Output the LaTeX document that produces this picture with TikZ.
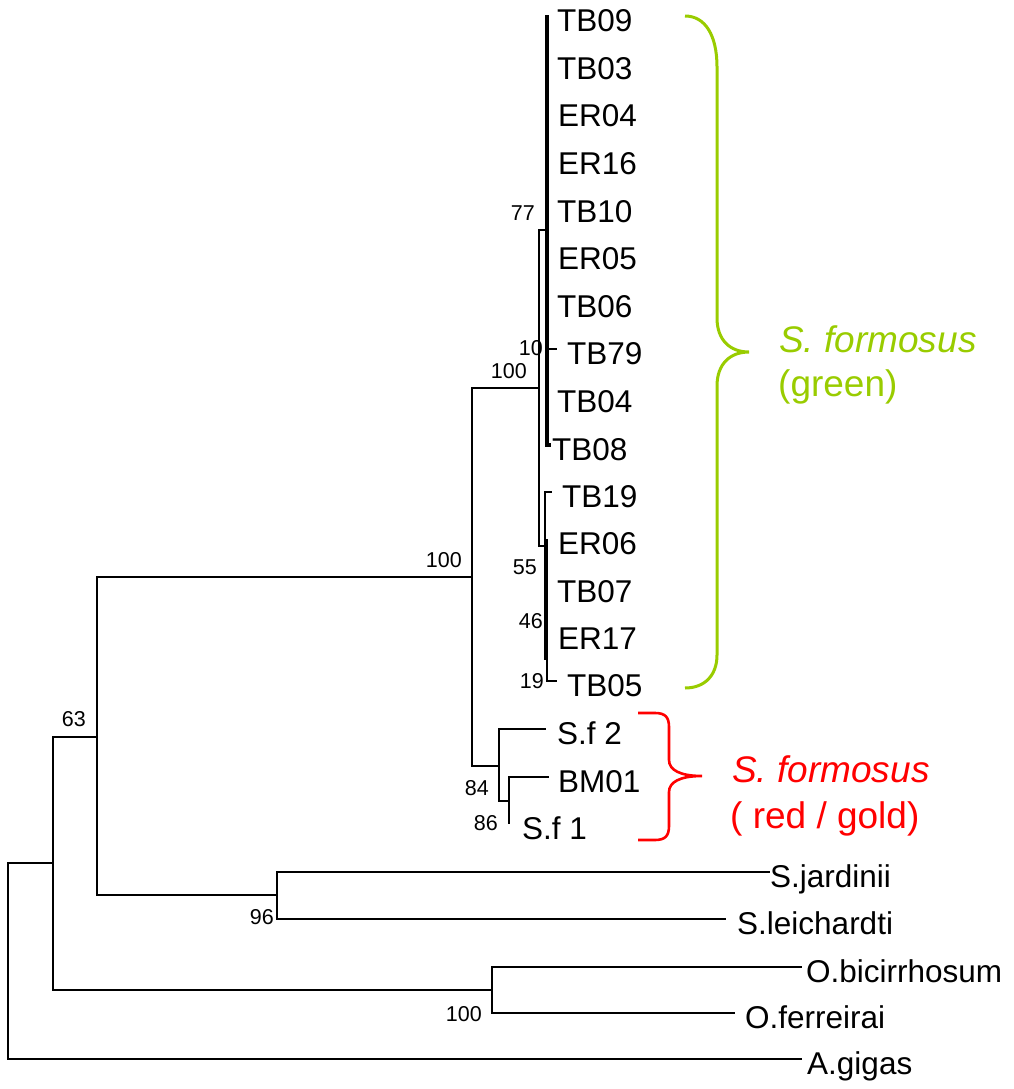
\documentclass[tikz,border=0pt]{standalone}
\usepackage{fontspec}
\setmainfont{Liberation Sans}
\definecolor{limegreen}{HTML}{99CC00}
\definecolor{brred}{HTML}{FF0000}
\begin{document}
\begin{tikzpicture}[x=1pt,y=-1pt,
  branch/.style={line width=2.4pt, line join=miter},
  dense/.style={line width=3.2pt},
  tiplabel/.style={anchor=base west, inner sep=0pt, font=\fontsize{31.5}{36}\selectfont},
  boot/.style={anchor=base east, inner sep=0pt, font=\fontsize{21.5}{24}\selectfont},
  bracegreen/.style={draw=limegreen, line width=3pt},
  bracered/.style={draw=brred, line width=2.6pt},
  cladetext/.style={anchor=base west, inner sep=0pt, font=\fontsize{37}{44}\selectfont}]
\useasboundingbox (0,0) rectangle (1013,1089);

% internal nodes
\coordinate (root) at (8,961);
\coordinate (n63) at (53,863);
\coordinate (nX) at (97,737);
\coordinate (n96) at (277,895);
\coordinate (nO) at (492,990);
\coordinate (nF) at (472,577);
\coordinate (n84) at (499,766);
\coordinate (n86) at (509,801);
\coordinate (nG) at (539,388);
\coordinate (n77) at (547,230);
\coordinate (n55) at (545,546);
\coordinate (n46) at (546,598);
\coordinate (n19) at (547,658);

% branch ends
\coordinate (eTB09) at (547,15);
\coordinate (eTB08) at (551,445);
\coordinate (eTB79) at (557,349);
\coordinate (eTB19) at (552,492);
\coordinate (eER06) at (546,539);
\coordinate (eTB05) at (557,681);
\coordinate (eSf2) at (546,729);
\coordinate (eBM) at (549,777);
\coordinate (eSf1) at (509,824);
\coordinate (ejar) at (770,872);
\coordinate (eleic) at (726,919);
\coordinate (ebic) at (802,967);
\coordinate (efer) at (735,1013);
\coordinate (egig) at (802,1059);

% branches
\draw[branch] (root) |- (n63);
\draw[branch] (root) |- (egig);
\draw[branch] (n63) |- (nX);
\draw[branch] (n63) |- (nO);
\draw[branch] (nO) |- (ebic);
\draw[branch] (nO) |- (efer);
\draw[branch] (nX) |- (nF);
\draw[branch] (nX) |- (n96);
\draw[branch] (n96) |- (ejar);
\draw[branch] (n96) |- (eleic);
\draw[branch] (nF) |- (nG);
\draw[branch] (nF) |- (n84);
\draw[branch] (n84) |- (eSf2);
\draw[branch] (n84) |- (n86);
\draw[branch] (n86) |- (eBM);
\draw[branch] (n86) |- (eSf1);
\draw[branch] (nG) |- (n77);
\draw[branch] (nG) |- (n55);
\draw[branch,dense] (n77) |- (eTB09);
\draw[branch,dense] (n77) |- (eTB08);
\draw[branch] (n77) |- (eTB79);
\draw[branch] (n55) |- (eTB19);
\draw[branch] (n55) |- (n46);
\draw[branch,dense] (n46) |- (eER06);
\draw[branch,dense] (n46) |- (n19);
\draw[branch] (n19) |- (eTB05);

% tip labels
\node[tiplabel] (TB09) at (557,32) {TB09};
\node[tiplabel] (TB03) at (557,79.5) {TB03};
\node[tiplabel] (ER04) at (558,127) {ER04};
\node[tiplabel] (ER16) at (558,174.5) {ER16};
\node[tiplabel] (TB10) at (557,222) {TB10};
\node[tiplabel] (ER05) at (558,269.5) {ER05};
\node[tiplabel] (TB06) at (557,317) {TB06};
\node[tiplabel] (TB79) at (567,364) {TB79};
\node[tiplabel] (TB04) at (557,412) {TB04};
\node[tiplabel] (TB08) at (552,460) {TB08};
\node[tiplabel] (TB19) at (562,507) {TB19};
\node[tiplabel] (ER06) at (558,554.5) {ER06};
\node[tiplabel] (TB07) at (557,602) {TB07};
\node[tiplabel] (ER17) at (558,649.5) {ER17};
\node[tiplabel] (TB05) at (567,696) {TB05};
\node[tiplabel] (Sf2) at (557,744) {S.f 2};
\node[tiplabel] (BM01) at (558,792) {BM01};
\node[tiplabel] (Sf1) at (522,839) {S.f 1};
\node[tiplabel] (Sjar) at (770,887) {S.jardinii};
\node[tiplabel] (Sleic) at (737,934) {S.leichardti};
\node[tiplabel] (Obic) at (806,982) {O.bicirrhosum};
\node[tiplabel] (Ofer) at (745,1028) {O.ferreirai};
\node[tiplabel] (Agig) at (807,1074) {A.gigas};

% bootstrap values
\node[boot] (b77) at (535,220) {77};
\node[boot] (b10) at (543,355) {10};
\node[boot] (b100a) at (527,378) {100};
\node[boot] (b100b) at (462,567) {100};
\node[boot] (b63) at (86,726) {63};
\node[boot] (b96) at (274,924) {96};
\node[boot] (b100c) at (482,1021) {100};
\node[boot] (b84) at (489,795) {84};
\node[boot] (b86) at (498,830) {86};
\node[boot] (b55) at (537,574) {55};
\node[boot] (b46) at (543,628) {46};
\node[boot] (b19) at (544,688) {19};

% braces
\draw[bracegreen] (685,16) .. controls (705,16) and (717,35) .. (717,67)
  -- (717,318) .. controls (717,340) and (730,352) .. (749,352)
  .. controls (730,352) and (717,364) .. (717,386)
  -- (717,655) .. controls (717,675) and (705,688) .. (685,688);
\draw[bracered] (638,713) -- (655,713) .. controls (665,713) and (669,717) .. (669,727)
  -- (669,760) .. controls (669,770) and (680,776) .. (702,776)
  .. controls (680,776) and (669,782) .. (669,792)
  -- (669,826) .. controls (669,836) and (665,840) .. (655,840) -- (638,840);

\node[cladetext, text=limegreen] (gname) at (779,352) {\itshape S. formosus};
\node[cladetext, text=limegreen] (gsub) at (778,396) {(green)};
\node[cladetext, text=brred] (rname) at (732,782) {\itshape S. formosus};
\node[cladetext, text=brred] (rsub) at (730,828) {( red / gold)};
\end{tikzpicture}
\end{document}
